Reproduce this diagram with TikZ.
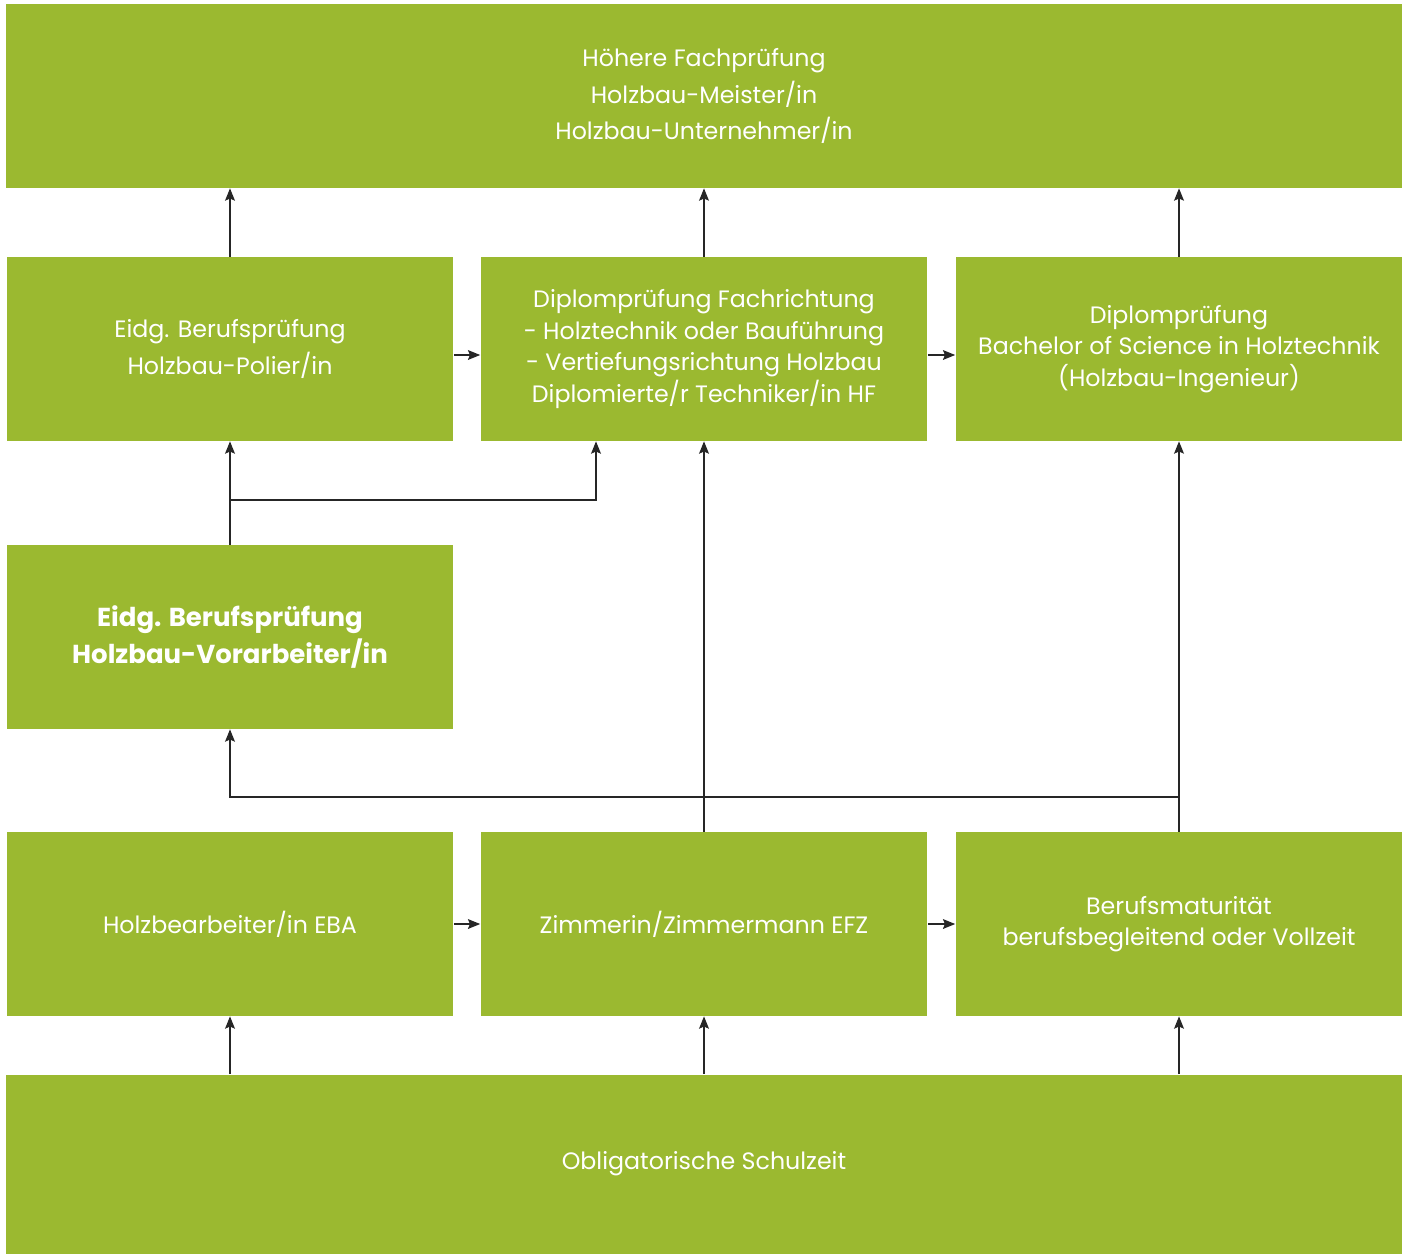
\documentclass[tikz,border=0pt]{standalone}
\usepackage{fontspec}
\setmainfont{Poppins}
\usetikzlibrary{arrows.meta}

\definecolor{holzgruen}{RGB}{155,185,48}

\begin{document}
\begin{tikzpicture}[x=0.02cm,y=-0.02cm,
	stufe/.style={fill=holzgruen,text=white,align=center,inner sep=0pt,
		minimum width=8.94cm,minimum height=3.68cm,
		font=\fontsize{13.5}{21}\selectfont},
	eng/.style={font=\fontsize{13.5}{18}\selectfont},
	breit/.style={stufe,minimum width=27.92cm},
	pfeil/.style={draw=black!85,line width=0.8pt,-{Stealth[length=7pt,width=5.6pt,inset=1.2pt]}},
	linie/.style={draw=black!85,line width=0.8pt}]
	\useasboundingbox (0,0) rectangle (1408,1254);
	% oberste Stufe
	\node[breit] (hfp) at (704,96) {Höhere Fachprüfung\\Holzbau-Meister/in\\Holzbau-Unternehmer/in};
	% Weiterbildung
	\node[stufe] (polier) at (230,349) {Eidg. Berufsprüfung\\Holzbau-Polier/in};
	\node[stufe,eng] (hf) at (704,349) {Diplomprüfung Fachrichtung\\- Holztechnik oder Bauführung\\- Vertiefungsrichtung Holzbau\\Diplomierte/r Techniker/in HF};
	\node[stufe,eng] (bsc) at (1179,349) {Diplomprüfung\\Bachelor of Science in Holztechnik\\(Holzbau-Ingenieur)};
	\node[stufe,font=\fontsize{14.8}{21}\selectfont] (vorarb) at (230,637) {\bfseries Eidg. Berufsprüfung\\\bfseries Holzbau-Vorarbeiter/in};
	% Grundbildung
	\node[stufe] (eba) at (230,924) {Holzbearbeiter/in EBA};
	\node[stufe] (efz) at (704,924) {Zimmerin/Zimmermann EFZ};
	\node[stufe,eng] (bm) at (1179,924) {Berufsmaturität\\berufsbegleitend oder Vollzeit};
	\node[breit,minimum height=3.58cm] (schule) at (704,1164) {Obligatorische Schulzeit};
	% Verbindungen
	\draw[pfeil] (polier) -- (polier |- hfp.south);
	\draw[pfeil] (hf) -- (hf |- hfp.south);
	\draw[pfeil] (bsc) -- (bsc |- hfp.south);
	\draw[pfeil] (polier.east |- 0,355) -- (hf.west |- 0,355);
	\draw[pfeil] (hf.east |- 0,355) -- (bsc.west |- 0,355);
	\coordinate (abzw) at (230,500);
	\draw[pfeil] (vorarb.north) -- (polier.south);
	\draw[pfeil] (abzw) -| (596,0 |- hf.south);
	\draw[pfeil] (efz.north) -- (hf.south);
	\draw[pfeil] (bm.north) -- (bsc.south);
	\coordinate (quer) at (1179,797);
	\draw[pfeil] (quer) -| (vorarb.south);
	\draw[pfeil] (eba) -- (efz);
	\draw[pfeil] (efz) -- (bm);
	\draw[pfeil] (schule.north -| eba) -- (eba.south);
	\draw[pfeil] (schule.north -| efz) -- (efz.south);
	\draw[pfeil] (schule.north -| bm) -- (bm.south);
\end{tikzpicture}
\end{document}
